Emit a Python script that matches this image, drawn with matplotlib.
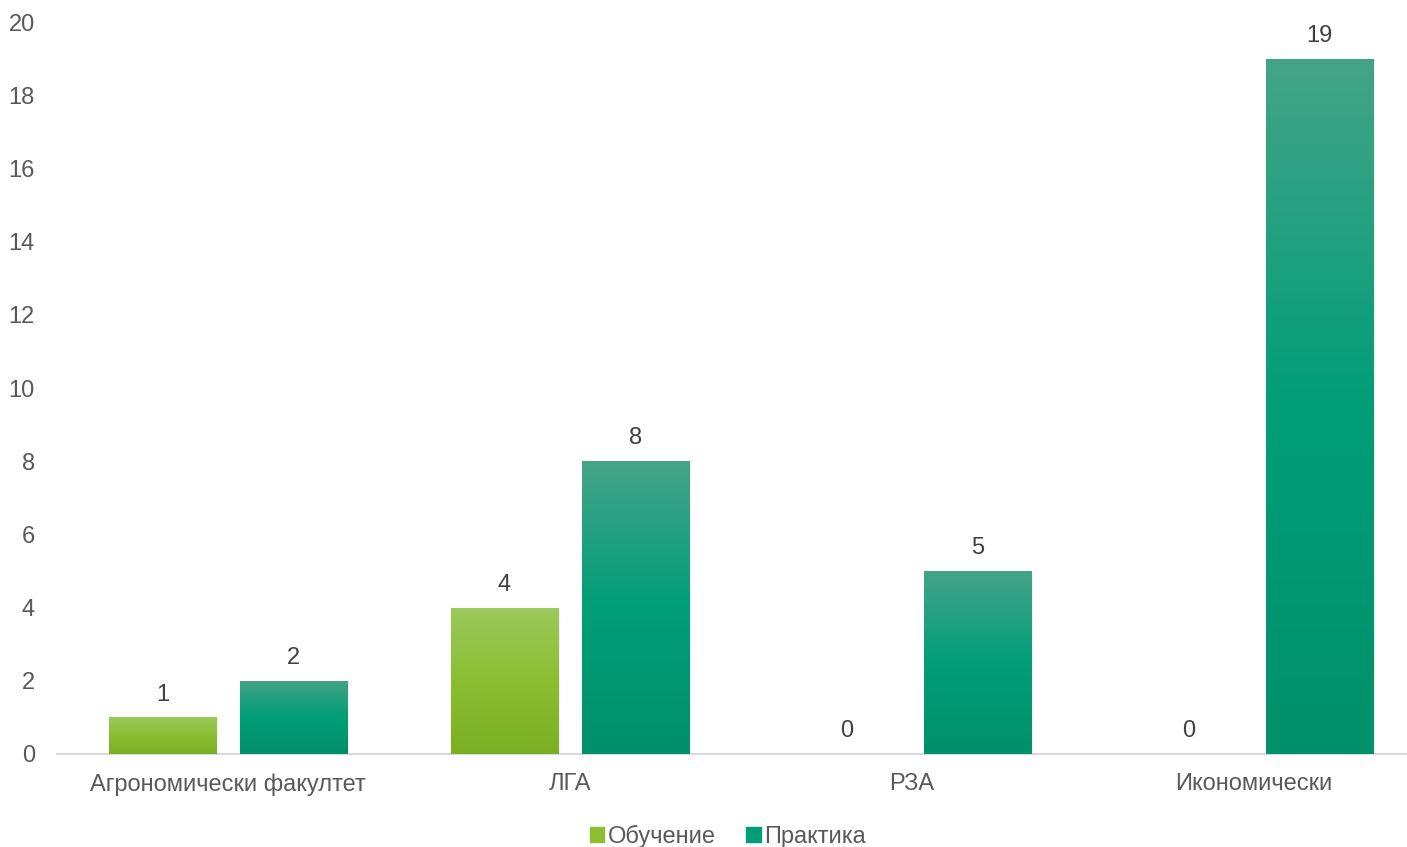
import numpy as np
import matplotlib.pyplot as plt
from matplotlib.colors import LinearSegmentedColormap
from matplotlib.patches import Patch

categories = ['Агрономически факултет', 'ЛГА', 'РЗА', 'Икономически']
obuchenie = [1, 4, 0, 0]
praktika = [2, 8, 5, 19]
series_names = ['Обучение', 'Практика']

plt.rcParams['font.family'] = ['Liberation Sans', 'DejaVu Sans']

fig = plt.figure(figsize=(14.07, 8.47), dpi=100)
ax = fig.add_axes([57 / 1407, 1 - 754 / 847, 1368 / 1407, (754 - 22) / 847])

x = np.arange(len(categories))
w = 0.313
off = 0.1915

green_cmap = LinearSegmentedColormap.from_list('g', ['#7AAF24', '#8CBE32', '#9CC95C'])
teal_cmap = LinearSegmentedColormap.from_list('t', ['#00906A', '#009E78', '#45A487'])

b1 = ax.bar(x - off, obuchenie, w, color='none', zorder=2)
b2 = ax.bar(x + off, praktika, w, color='none', zorder=2)

grad = np.linspace(0, 1, 256).reshape(-1, 1)
for bars, cmap in [(b1, green_cmap), (b2, teal_cmap)]:
    for p in bars:
        h = p.get_height()
        if h <= 0:
            continue
        x0 = p.get_x()
        # soft shadow
        ax.bar(x0 + p.get_width() / 2 + 0.003, h, p.get_width() + 0.006,
               color='#000000', alpha=0.06, zorder=1)
        im = ax.imshow(grad, cmap=cmap, origin='lower', aspect='auto',
                       extent=[x0, x0 + p.get_width(), 0, h], zorder=3)
        im.set_clip_path(p)

for bars, vals in [(b1, obuchenie), (b2, praktika)]:
    for p, v in zip(bars, vals):
        ax.text(p.get_x() + p.get_width() / 2, v + 0.32, str(v), ha='center',
                va='bottom', fontsize=17, color='#404040')

ax.set_xlim(-0.5, 3.5)
ax.set_ylim(0, 20)
ax.set_yticks(range(0, 21, 2))
ax.set_xticks(x)
ax.set_xticklabels(categories)
ax.tick_params(axis='both', length=0, labelsize=17, colors='#595959')
ax.tick_params(axis='x', pad=14)
ax.tick_params(axis='y', pad=16)
for s in ['top', 'right', 'left']:
    ax.spines[s].set_visible(False)
ax.spines['bottom'].set_color('#D9D9D9')
ax.spines['bottom'].set_linewidth(1.5)

handles = [Patch(color='#8CBE32'), Patch(color='#009E78')]
fig.legend(handles, series_names, loc='center', bbox_to_anchor=(728 / 1407, 1 - 836 / 847),
           ncol=2, frameon=False, fontsize=17, labelcolor='#595959',
           handlelength=0.6, handleheight=0.6, handletextpad=0.15, columnspacing=1.3)

fig.savefig('out.png', dpi=100)
